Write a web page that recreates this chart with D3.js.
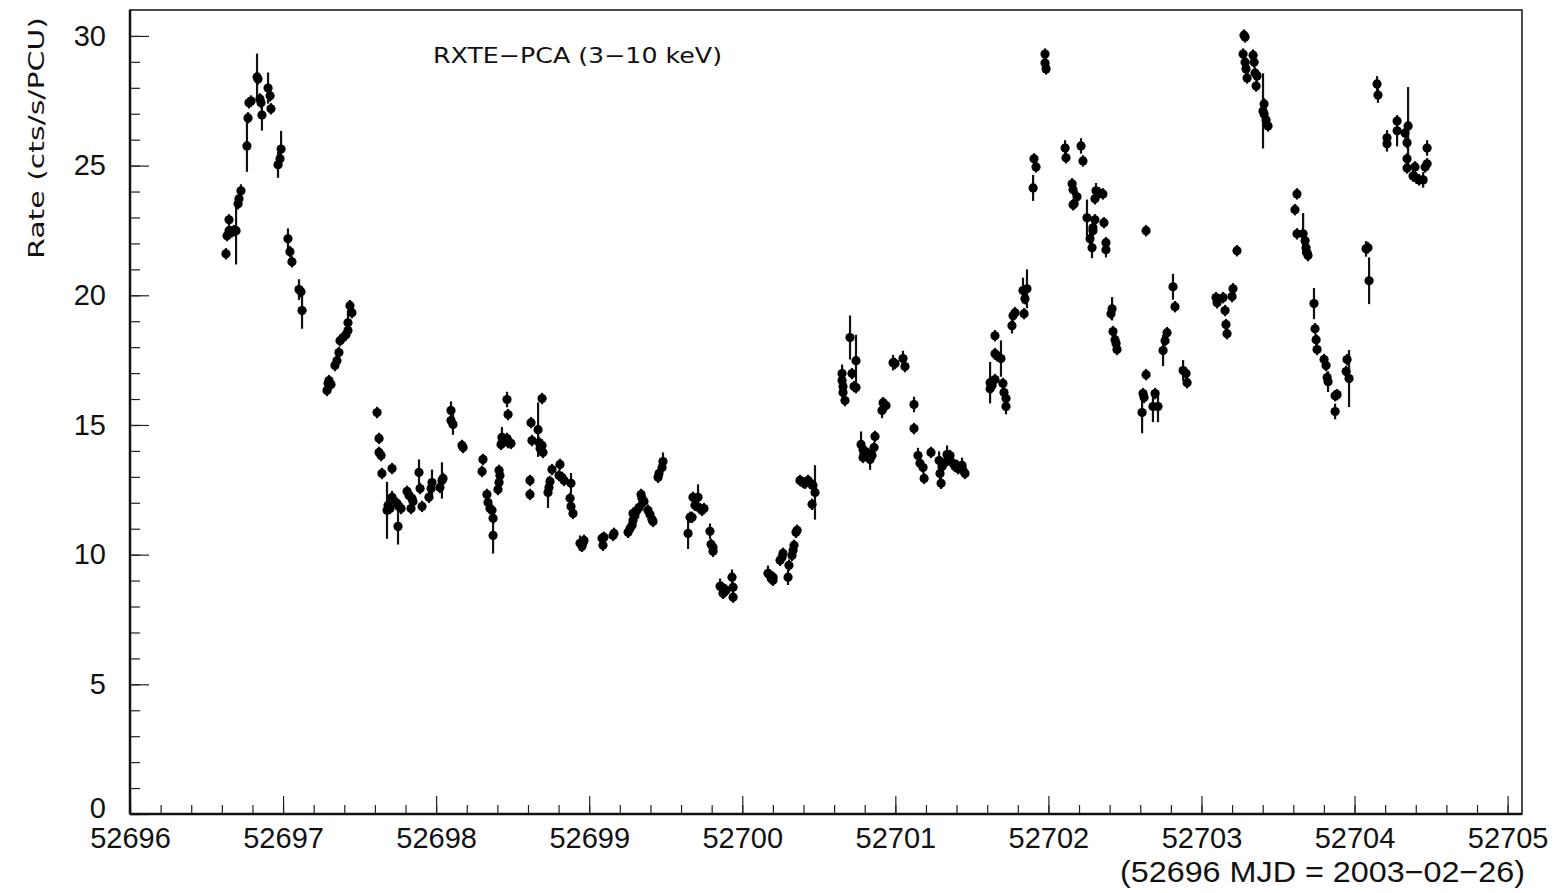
<!DOCTYPE html>
<html>
<head>
<meta charset="utf-8">
<script src="https://cdn.jsdelivr.net/npm/d3@7"></script>
<style>
  html, body { margin: 0; padding: 0; background: #fff; }
  svg { display: block; }
</style>
</head>
<body>
<svg id="chart" width="1564" height="893"></svg>
<script>
// RXTE-PCA light curve, 3-10 keV. Times are days after MJD 52696.
const mjdZero = 52696;
const xTickLabels = ["52696","52697","52698","52699","52700","52701","52702","52703","52704","52705"];
const yTickLabels = ["0","5","10","15","20","25","30"];

const days = [
  0.627,0.634,0.647,0.647,0.666,0.679,0.693,0.706,0.712,0.725,0.764,0.771,0.777,0.791,0.830,0.836,0.849,0.856,0.862,0.902,
  0.915,0.921,0.967,0.980,0.987,1.032,1.045,1.058,1.104,1.117,1.124,1.287,1.294,1.300,1.313,1.339,1.352,1.365,1.372,1.392,
  1.411,1.424,1.424,1.450,1.437,
  1.614,1.627,1.627,1.640,1.646,1.712,1.679,1.686,1.699,1.712,1.744,1.757,1.771,1.751,1.810,1.823,1.842,1.849,1.836,1.888,
  1.895,1.908,1.953,1.967,1.973,2.025,2.038,2.045,2.097,2.097,2.110,2.169,2.176,2.306,2.300,2.332,2.339,2.352,2.365,2.372,
  2.372,2.411,2.417,2.411,2.404,2.430,2.437,2.424,2.463,2.470,2.489,2.463,2.470,2.620,2.626,2.613,2.613,2.692,2.666,2.672,
  2.692,2.698,2.679,2.744,2.757,2.731,2.737,2.809,2.803,2.822,2.836,2.881,2.875,2.881,2.894,2.940,2.960,2.966,2.953,
  3.084,3.090,3.097,3.156,3.162,3.254,3.267,3.280,3.286,3.299,3.286,3.312,3.326,3.339,3.345,3.358,3.384,3.397,3.410,3.417,
  3.450,3.456,3.476,3.482,3.646,3.659,3.672,3.678,3.691,3.711,3.724,3.737,3.750,3.789,3.796,3.809,3.809,3.855,3.868,3.874,
  3.881,3.894,3.933,3.940,3.940,4.168,4.181,4.201,4.194,4.201,4.247,4.260,4.266,4.305,4.299,4.325,4.332,4.338,4.351,4.358,
  4.377,4.397,4.410,4.430,4.443,4.462,4.475,4.456,4.652,4.652,4.658,4.658,4.671,4.704,4.717,4.743,4.730,4.743,4.776,4.789,
  4.796,4.789,4.822,4.848,4.835,4.867,4.861,4.913,4.920,4.939,4.985,4.998,5.050,5.063,5.122,5.122,5.148,5.161,5.181,5.188,
  5.233,5.286,5.305,5.292,5.299,5.338,5.357,5.325,5.377,5.390,5.403,5.410,5.436,5.442,5.455,
  5.619,5.632,5.619,5.651,5.651,5.651,5.664,5.690,5.703,5.710,5.723,5.723,5.762,5.769,5.782,5.834,5.860,5.847,5.841,5.906,
  5.919,5.900,5.978,5.978,5.985,6.109,6.115,6.155,6.161,6.187,6.168,6.161,6.213,6.226,6.252,6.272,6.285,6.291,6.291,6.304,
  6.304,6.311,6.330,6.356,6.363,6.376,6.376,6.416,6.409,6.422,6.435,6.442,6.448,
  6.612,6.618,6.625,6.638,6.638,6.697,6.683,6.716,6.749,6.762,6.775,6.814,6.827,6.880,6.899,6.906,7.095,7.102,7.141,7.154,
  7.160,7.167,7.206,7.200,7.232,7.278,7.285,7.272,7.285,7.291,7.298,7.337,7.344,7.350,7.363,7.357,7.409,7.402,7.409,7.422,
  7.435,7.624,7.611,7.624,7.664,7.677,7.683,7.690,7.696,
  7.735,7.742,7.749,7.755,7.801,7.814,7.821,7.827,7.873,7.886,7.873,7.951,7.945,7.964,8.075,8.088,8.095,8.147,8.153,8.212,
  8.212,8.278,8.278,8.330,8.350,8.343,8.343,8.343,8.395,8.382,8.402,8.422,8.448,8.461,8.474,8.474
];

const rate = [
  21.60,22.30,22.49,22.91,22.45,22.49,22.49,23.53,23.72,24.03,25.76,26.84,27.42,27.49,28.42,28.34,27.57,27.42,26.95,27.99,
  27.69,27.19,25.03,25.26,25.64,22.18,21.68,21.29,20.22,20.14,19.41,16.33,16.60,16.71,16.56,17.29,17.48,17.79,18.25,18.37,
  18.48,18.64,18.94,19.33,19.60,
  15.48,14.48,13.94,13.82,13.13,13.32,11.71,11.90,11.78,12.21,11.98,11.86,11.78,11.09,12.44,12.28,12.17,12.05,11.78,13.17,
  12.55,11.86,12.21,12.55,12.78,12.59,12.86,12.94,15.56,15.17,15.02,14.21,14.13,13.67,13.21,12.32,12.01,11.78,11.71,11.40,
  10.74,13.25,13.05,12.78,12.51,14.52,14.40,14.25,14.48,14.32,14.29,15.98,15.40,15.09,14.40,12.86,12.32,16.02,14.82,14.32,
  14.21,13.94,14.09,12.82,13.28,12.40,12.59,13.48,13.05,12.98,12.86,12.75,12.17,11.86,11.59,10.44,10.47,10.55,10.32,
  10.63,10.36,10.67,10.74,10.82,10.86,11.01,11.13,11.32,11.51,11.59,11.71,11.82,12.32,12.17,12.05,11.71,11.55,11.36,11.28,
  12.98,13.13,13.36,13.59,10.82,11.44,11.44,12.21,11.90,12.21,11.78,11.71,11.78,10.90,10.40,10.28,10.13,8.78,8.74,8.51,
  8.55,8.63,9.13,8.74,8.36,9.28,9.20,9.13,9.05,9.01,9.78,9.90,10.05,9.59,9.13,9.97,10.17,10.36,10.86,10.94,
  12.86,12.78,12.75,12.86,12.75,12.67,12.40,11.94,16.98,16.71,16.48,16.25,15.94,18.37,16.98,17.48,16.48,16.44,14.25,14.05,
  13.90,13.75,13.90,13.82,13.67,14.56,14.13,15.56,15.86,15.75,17.40,17.37,17.56,17.25,15.79,14.86,13.82,13.52,13.36,12.94,
  13.94,13.63,13.40,13.13,12.75,13.86,13.82,13.55,13.52,13.40,13.44,13.32,13.44,13.25,13.13,
  16.63,16.52,16.40,16.75,18.44,17.75,17.67,17.56,16.60,16.25,16.02,15.71,18.83,19.21,19.33,20.18,20.25,19.87,19.29,25.26,
  24.95,24.14,29.30,28.96,28.73,25.68,25.30,24.30,24.07,23.80,23.53,23.49,25.76,25.18,22.99,22.18,21.83,22.60,22.49,22.91,
  23.72,24.03,23.95,23.91,22.80,22.03,21.76,19.48,19.29,18.60,18.29,18.14,17.91,
  15.48,16.21,16.06,16.94,22.49,16.21,15.71,15.71,17.87,18.25,18.56,20.33,19.56,17.10,16.98,16.63,19.91,19.71,19.91,19.41,
  18.87,18.52,20.25,19.95,21.72,30.03,29.96,29.30,28.99,28.73,28.38,29.26,28.99,28.57,28.46,28.07,27.38,27.11,26.99,26.76,
  26.53,23.91,23.30,22.37,22.37,22.10,21.83,21.64,21.53,
  19.68,18.71,18.29,17.91,17.52,17.29,16.83,16.67,16.13,16.17,15.52,17.52,17.06,16.79,21.79,21.83,20.56,28.15,27.72,26.07,
  25.84,26.72,26.34,26.26,26.53,25.88,25.26,24.91,24.95,24.60,24.53,24.45,24.45,24.95,25.07,25.68
];

const rateErr = [
  0.22,0.22,0.22,0.22,0.22,0.22,1.30,0.22,0.22,0.25,1.00,0.22,0.22,0.22,0.90,0.22,0.22,0.22,0.60,0.60,
  0.22,0.22,0.50,0.22,0.70,0.40,0.22,0.22,0.40,0.22,0.70,0.22,0.22,0.22,0.22,0.22,0.22,0.22,0.22,0.22,
  0.22,0.22,0.50,0.22,0.22,
  0.22,0.22,0.22,0.22,0.22,0.22,1.10,0.22,0.22,0.25,0.22,0.22,0.22,0.70,0.22,0.22,0.22,0.22,0.22,0.50,
  0.22,0.22,0.22,0.22,0.50,0.22,0.70,0.22,0.35,0.22,0.40,0.22,0.22,0.22,0.22,0.22,0.22,0.22,0.22,0.22,
  0.70,0.22,0.22,0.22,0.22,0.40,0.22,0.22,0.22,0.22,0.22,0.30,0.22,0.22,0.22,0.22,0.22,0.22,1.05,0.22,
  0.22,0.22,0.22,0.22,0.22,0.60,0.22,0.22,0.22,0.22,0.22,0.40,0.22,0.22,0.22,0.30,0.22,0.22,0.22,
  0.22,0.22,0.22,0.22,0.22,0.22,0.22,0.22,0.22,0.22,0.22,0.22,0.22,0.22,0.22,0.22,0.22,0.22,0.22,0.22,
  0.22,0.22,0.22,0.35,0.60,0.22,0.22,0.22,0.22,0.50,0.22,0.22,0.22,0.30,0.22,0.22,0.22,0.30,0.22,0.22,
  0.22,0.22,0.30,0.22,0.22,0.30,0.22,0.22,0.22,0.22,0.22,0.22,0.22,0.22,0.30,0.22,0.22,0.22,0.22,0.22,
  0.22,0.22,0.22,0.22,0.22,0.22,1.05,0.22,0.35,0.22,0.22,0.22,0.22,0.85,0.22,1.00,0.22,0.22,0.50,0.22,
  0.22,0.22,0.22,0.22,0.40,0.22,0.22,0.30,0.22,0.22,0.30,0.22,0.30,0.22,0.30,0.22,0.30,0.22,0.22,0.22,
  0.22,0.35,0.22,0.22,0.22,0.35,0.22,0.22,0.22,0.22,0.22,0.22,0.30,0.22,0.22,
  0.80,0.22,0.22,0.22,0.22,0.22,0.22,0.70,0.22,0.22,0.22,0.30,0.30,0.22,0.22,0.50,0.75,0.22,0.22,0.22,
  0.22,0.50,0.22,0.22,0.22,0.30,0.22,0.22,0.22,0.22,0.22,0.22,0.30,0.22,0.70,0.22,0.40,0.22,0.22,0.22,
  0.22,0.30,0.22,0.22,0.22,0.22,0.30,0.45,0.22,0.22,0.22,0.22,0.22,
  0.80,0.22,0.22,0.22,0.22,0.22,0.60,0.60,0.60,0.22,0.22,0.50,0.22,0.40,0.22,0.22,0.22,0.22,0.22,0.22,
  0.22,0.22,0.22,0.22,0.22,0.22,0.22,0.22,0.22,0.22,0.22,0.22,0.22,0.22,0.22,0.22,0.22,1.45,0.22,0.22,
  0.22,0.22,0.22,0.22,0.80,0.22,0.22,0.22,0.22,
  0.60,0.22,0.22,0.22,0.22,0.22,0.22,0.40,0.22,0.22,0.30,0.22,0.22,1.10,0.30,0.22,0.90,0.30,0.30,0.30,
  0.30,0.22,0.60,0.22,1.50,0.22,0.22,0.22,0.22,0.22,0.22,0.22,0.30,0.22,0.22,0.30
];

const points = days.map((d, i) => ({ t: mjdZero + d, r: rate[i], e: rateErr[i] }));

const svg = d3.select("#chart");
const frame = { left: 130, right: 1522, top: 10, bottom: 814 };

const x = d3.scaleLinear().domain([52696, 52705.094]).range([frame.left, frame.right]);
const y = d3.scaleLinear().domain([0, 31]).range([frame.bottom, frame.top]);

const tickFont = "'Liberation Sans', Arial, sans-serif";

// Minor ticks (no labels)
const xMinor = d3.range(52696, 52705.0001, 0.2);
svg.append("g")
  .attr("transform", `translate(0,${frame.bottom})`)
  .call(d3.axisBottom(x).tickValues(xMinor).tickSize(-9).tickFormat(""))
  .call(g => g.select(".domain").remove())
  .call(g => g.selectAll("line").attr("stroke", "#222").attr("stroke-width", 1.2));

const yMinor = d3.range(0, 31, 1);
svg.append("g")
  .attr("transform", `translate(${frame.left},0)`)
  .call(d3.axisLeft(y).tickValues(yMinor).tickSize(-10).tickFormat(""))
  .call(g => g.select(".domain").remove())
  .call(g => g.selectAll("line").attr("stroke", "#222").attr("stroke-width", 1.2));

// Major ticks with labels
svg.append("g")
  .attr("transform", `translate(0,${frame.bottom})`)
  .call(d3.axisBottom(x).tickValues(xTickLabels.map(Number)).tickSize(-18).tickPadding(13)
        .tickFormat((d, i) => xTickLabels[i]))
  .call(g => g.select(".domain").remove())
  .call(g => g.selectAll("line").attr("stroke", "#222").attr("stroke-width", 1.2))
  .call(g => g.selectAll("text").attr("font-family", tickFont).attr("font-size", 29).attr("fill", "#111"));

svg.append("g")
  .attr("transform", `translate(${frame.left},0)`)
  .call(d3.axisLeft(y).tickValues(yTickLabels.map(Number)).tickSize(-19).tickPadding(24)
        .tickFormat((d, i) => yTickLabels[i]))
  .call(g => g.select(".domain").remove())
  .call(g => g.selectAll("line").attr("stroke", "#222").attr("stroke-width", 1.2))
  .call(g => g.selectAll("text").attr("font-family", tickFont).attr("font-size", 29).attr("fill", "#111")
        .attr("dy", d => d === 0 ? "0.12em" : "0.32em"));

// Plot frame
svg.append("rect")
  .attr("x", frame.left).attr("y", frame.top)
  .attr("width", frame.right - frame.left).attr("height", frame.bottom - frame.top)
  .attr("fill", "none").attr("stroke", "#111").attr("stroke-width", 1.5);
svg.append("line")
  .attr("x1", frame.left).attr("x2", frame.right)
  .attr("y1", frame.bottom).attr("y2", frame.bottom)
  .attr("stroke", "#111").attr("stroke-width", 2.5);
svg.append("line")
  .attr("x1", frame.left).attr("x2", frame.left)
  .attr("y1", frame.top).attr("y2", frame.bottom)
  .attr("stroke", "#111").attr("stroke-width", 2.5);

// Error bars
svg.append("g").selectAll("line")
  .data(points)
  .join("line")
  .attr("x1", d => x(d.t)).attr("x2", d => x(d.t))
  .attr("y1", d => y(d.r - d.e)).attr("y2", d => y(d.r + d.e))
  .attr("stroke", "#111").attr("stroke-width", 2.2);

// Data markers
svg.append("g").selectAll("circle")
  .data(points)
  .join("circle")
  .attr("cx", d => x(d.t)).attr("cy", d => y(d.r))
  .attr("r", 4.6)
  .attr("fill", "#000");

// Axis title and annotations
const textFont = "'DejaVu Sans', sans-serif";
svg.append("text")
  .attr("transform", `translate(44,${frame.top + 128}) rotate(-90)`)
  .attr("text-anchor", "middle")
  .attr("font-family", textFont).attr("font-size", 22).attr("fill", "#111")
  .attr("textLength", 242).attr("lengthAdjust", "spacingAndGlyphs")
  .text("Rate (cts/s/PCU)");

svg.append("text")
  .attr("x", 433).attr("y", 63)
  .attr("font-family", textFont).attr("font-size", 22).attr("fill", "#111")
  .attr("textLength", 289).attr("lengthAdjust", "spacingAndGlyphs")
  .text("RXTE\u2212PCA (3\u221210 keV)");

svg.append("text")
  .attr("x", 1120).attr("y", 882)
  .attr("font-family", tickFont).attr("font-size", 29).attr("fill", "#111")
  .attr("textLength", 405).attr("lengthAdjust", "spacingAndGlyphs")
  .text("(52696 MJD = 2003\u221202\u221226)");
</script>
</body>
</html>
